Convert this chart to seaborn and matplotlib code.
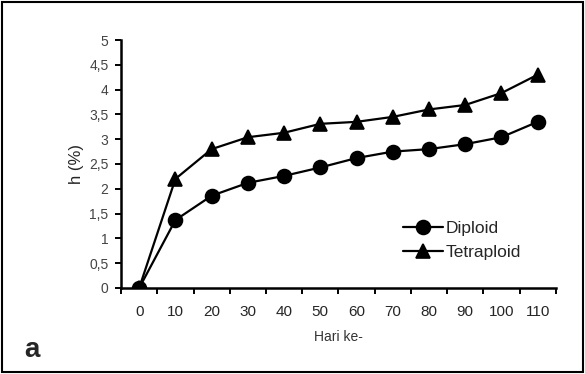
import seaborn as sns
import pandas as pd
import matplotlib.pyplot as plt
from matplotlib.patches import Rectangle
from matplotlib.ticker import FixedLocator

days = ["0", "10", "20", "30", "40", "50", "60", "70", "80", "90", "100", "110"]
diploid = [0, 1.37, 1.86, 2.12, 2.26, 2.43, 2.62, 2.75, 2.80, 2.90, 3.04, 3.35]
tetraploid = [0, 2.20, 2.80, 3.04, 3.13, 3.31, 3.35, 3.45, 3.60, 3.69, 3.93, 4.30]
yticks = [0, 0.5, 1, 1.5, 2, 2.5, 3, 3.5, 4, 4.5, 5]

sns.set_theme(style="white")
plt.rcParams['font.family'] = ['Liberation Sans', 'DejaVu Sans']

df = pd.DataFrame({
    "hari": days * 2,
    "h": diploid + tetraploid,
    "jenis": ["Diploid"] * len(days) + ["Tetraploid"] * len(days),
})

fig = plt.figure(figsize=(5.85, 3.74), dpi=100)
ax = fig.add_axes([0.207, 0.23, 0.743, 0.663])

sns.pointplot(data=df, x="hari", y="h", hue="jenis", palette=["black", "black"],
              markers=["o", "^"], linestyles=["-", "-"], markersize=10,
              linewidth=1.6, errorbar=None, ax=ax)

ax.set_xlim(-0.5, 11.5)
ax.set_ylim(0, 5)
ax.set_yticks(yticks)
ax.set_yticklabels([("%g" % v).replace(".", ",") for v in yticks],
                   fontsize=10, color="#444444")
ax.tick_params(axis="x", which="major", length=0, pad=12, labelsize=11)
ax.tick_params(axis="y", which="major", length=4, width=1.4, direction="out",
               color="black", left=True, pad=5)
ax.xaxis.set_minor_locator(FixedLocator([i - 0.5 for i in range(13)]))
ax.tick_params(axis="x", which="minor", length=4, width=1.4, direction="out",
               color="black", bottom=True)

for s in ["top", "right"]:
    ax.spines[s].set_visible(False)
for s in ["left", "bottom"]:
    ax.spines[s].set_color("black")
    ax.spines[s].set_linewidth(1.8)

ax.set_xlabel("Hari ke-", fontsize=10, labelpad=8, color="#333333")
ax.set_ylabel("h (%)", fontsize=12, labelpad=4)

leg = ax.legend(loc="center left", bbox_to_anchor=(0.689, 0.358),
                bbox_transform=fig.transFigure, frameon=False,
                fontsize=12.5, handlelength=2.3, handletextpad=0.15,
                labelspacing=0.5, borderpad=0, borderaxespad=0)

fig.text(0.042, 0.045, "a", fontsize=20, fontweight="bold")
fig.add_artist(Rectangle((0.004, 0.005), 0.992, 0.99, transform=fig.transFigure,
                         fill=False, edgecolor="black", linewidth=1.5))

fig.savefig("out.png", dpi=100)
